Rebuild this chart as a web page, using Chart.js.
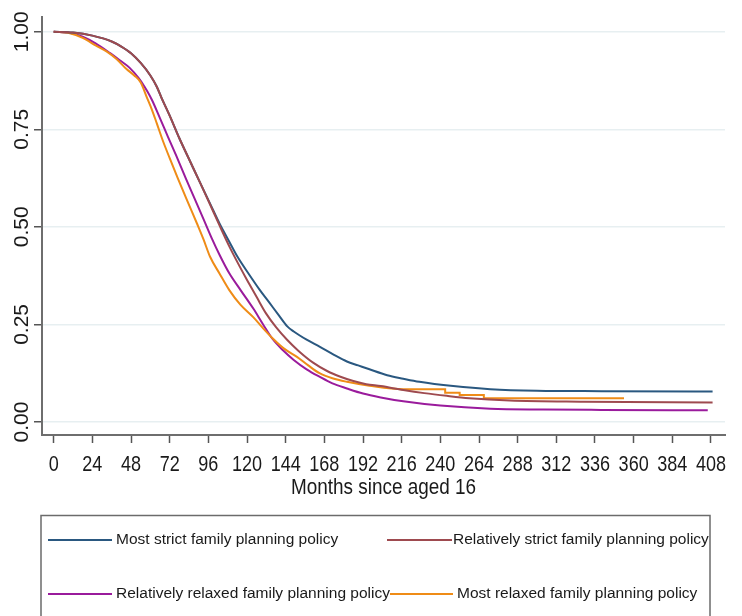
<!DOCTYPE html>
<html>
<head>
<meta charset="utf-8">
<script src="https://cdn.jsdelivr.net/npm/chart.js@4.4.1/dist/chart.umd.min.js"></script>
<style>
  html, body { margin: 0; padding: 0; background: #fff; }
</style>
</head>
<body>
<canvas id="myChart" width="742" height="616"></canvas>
<script>
'use strict';

// survival curves (months since aged 16 -> share still at risk)
let strictMonths = [0, 12, 24, 36, 42, 48, 54, 60, 64, 67, 72, 78, 85, 91, 97, 103, 109, 114, 121, 128, 134, 140, 145, 149, 157, 165, 174, 182, 189, 196, 207, 217, 227, 248, 271, 300, 340, 409];
let strictSurv = [1, 0.998, 0.99, 0.975, 0.962, 0.945, 0.92, 0.888, 0.859, 0.83, 0.785, 0.727, 0.665, 0.612, 0.56, 0.508, 0.462, 0.424, 0.38, 0.338, 0.305, 0.272, 0.245, 0.232, 0.211, 0.193, 0.172, 0.155, 0.145, 0.135, 0.12, 0.111, 0.103, 0.092, 0.084, 0.08, 0.079, 0.078];

let relStrictMonths = [0, 12, 24, 36, 42, 48, 54, 60, 64, 67, 72, 78, 85, 91, 97, 103, 109, 115, 120, 126, 132, 138, 145, 152, 161, 170, 178, 186, 194, 203, 217, 230, 244, 258, 283, 329, 409];
let relStrictSurv = [1, 0.998, 0.99, 0.975, 0.962, 0.945, 0.92, 0.888, 0.859, 0.83, 0.785, 0.727, 0.665, 0.612, 0.558, 0.503, 0.45, 0.402, 0.364, 0.32, 0.277, 0.243, 0.21, 0.182, 0.152, 0.13, 0.116, 0.105, 0.097, 0.092, 0.082, 0.074, 0.067, 0.061, 0.055, 0.052, 0.05];

let relRelaxMonths = [0, 10, 18, 26, 35, 41, 47, 53, 58, 61, 66, 71, 76, 82, 87, 93, 98, 103, 109, 116, 124, 130, 136, 142, 149, 157, 165, 173, 182, 192, 203, 217, 240, 271, 304, 340, 406];
let relRelaxSurv = [1, 0.997, 0.987, 0.97, 0.945, 0.927, 0.908, 0.88, 0.848, 0.825, 0.778, 0.73, 0.683, 0.624, 0.577, 0.52, 0.472, 0.428, 0.381, 0.338, 0.29, 0.25, 0.212, 0.185, 0.159, 0.135, 0.116, 0.099, 0.086, 0.073, 0.063, 0.053, 0.042, 0.034, 0.032, 0.031, 0.03];

let relaxMonths = [0, 10, 18, 26, 33, 39, 45, 50, 54, 58, 61, 64, 68, 72, 77, 83, 89, 93, 97, 103, 109, 116, 124, 130, 136, 143, 151, 158, 165, 173, 182, 196, 217, 243, 243, 252, 252, 267, 267, 354];
let relaxSurv = [1, 0.996, 0.984, 0.965, 0.949, 0.93, 0.905, 0.888, 0.87, 0.83, 0.8, 0.765, 0.718, 0.676, 0.625, 0.566, 0.508, 0.468, 0.424, 0.38, 0.338, 0.3, 0.268, 0.24, 0.214, 0.188, 0.167, 0.145, 0.125, 0.112, 0.103, 0.093, 0.084, 0.084, 0.075, 0.075, 0.069, 0.069, 0.061, 0.061];

let seriesNames = [
  'Most strict family planning policy',
  'Relatively strict family planning policy',
  'Relatively relaxed family planning policy',
  'Most relaxed family planning policy',
];
let seriesColors = ['#2a5880', '#9e4a4f', '#9a1b9c', '#ef8c17'];
// red sits on top of blue where they overlap in the export
let drawOrder = [1, 0, 3, 2];

let xTicks = [0, 24, 48, 72, 96, 120, 144, 168, 192, 216, 240, 264, 288, 312, 336, 360, 384, 408];
let yTicks = [0, 0.25, 0.5, 0.75, 1];
let xTitle = 'Months since aged 16';

function toPoints( months, surv ) {
  let pts = [];
  for ( let i = 0; i < months.length; i++ ) {
    pts.push( { x: months[i], y: surv[i] } );
  }
  return pts;
}

let allMonths = [strictMonths, relStrictMonths, relRelaxMonths, relaxMonths];
let allSurv = [strictSurv, relStrictSurv, relRelaxSurv, relaxSurv];

let datasets = [];
for ( let i = 0; i < seriesNames.length; i++ ) {
  datasets.push( {
    label: seriesNames[i],
    data: toPoints( allMonths[i], allSurv[i] ),
    borderColor: seriesColors[i],
    backgroundColor: seriesColors[i],
    borderWidth: 2,
    pointRadius: 0,
    cubicInterpolationMode: 'monotone',
    order: drawOrder[i],
    fill: false
  } );
}

// legend box, x labels + axis title, drawn under the x axis like the stata export
const legendSpots = [
  { x0: 48, x1: 112, tx: 116, y: 540 },
  { x0: 387, x1: 452, tx: 453, y: 540 },
  { x0: 48, x1: 112, tx: 116, y: 594 },
  { x0: 390, x1: 453, tx: 457, y: 594 },
];

// stata uses a narrow face here, squeeze liberation sans a bit
function narrowText( c, txt, x, y, squeeze ) {
  c.save();
  c.translate( x, y );
  c.scale( squeeze, 1 );
  c.fillText( txt, 0, 0 );
  c.restore();
}

const boxLegend = {
  id: 'boxLegend',
  afterDraw( chart ) {
    const ctx = chart.ctx;
    const area = chart.chartArea;
    const xs = chart.scales.x;
    ctx.save();
    ctx.fillStyle = '#1a1a1a';
    ctx.font = '22px "Liberation Sans", Arial, sans-serif';
    ctx.textAlign = 'center';
    ctx.textBaseline = 'middle';
    for ( let i = 0; i < xTicks.length; i++ ) {
      narrowText( ctx, String( xTicks[i] ), xs.getPixelForValue( xTicks[i] ), 465, 0.82 );
    }
    narrowText( ctx, xTitle, ( area.left + area.right ) / 2, 488, 0.86 );

    ctx.strokeStyle = '#6b6b6b';
    ctx.lineWidth = 1.5;
    ctx.strokeRect( 41, 515.5, 669, 120 );

    ctx.font = '15.5px "Liberation Sans", Arial, sans-serif';
    ctx.textAlign = 'left';
    for ( let i = 0; i < seriesNames.length; i++ ) {
      let s = legendSpots[i];
      ctx.strokeStyle = seriesColors[i];
      ctx.lineWidth = 2;
      ctx.beginPath();
      ctx.moveTo( s.x0, s.y );
      ctx.lineTo( s.x1, s.y );
      ctx.stroke();
      ctx.fillStyle = '#1a1a1a';
      ctx.fillText( seriesNames[i], s.tx, s.y );
    }
    ctx.restore();
  }
};

let ctx = document.getElementById( 'myChart' ).getContext( '2d' );
// eslint-disable-next-line no-unused-vars
let myChart = new Chart( ctx, {
  type: 'line',
  data: { datasets: datasets },
  plugins: [boxLegend],
  options: {
    responsive: false,
    animation: false,
    devicePixelRatio: 1,
    layout: { padding: { top: 17, right: 17, left: 0, bottom: 0 } },
    plugins: {
      legend: { display: false },
      tooltip: { enabled: false }
    },
    scales: {
      x: {
        type: 'linear',
        min: -7.26,
        max: 416.7,
        afterBuildTicks: ( axis ) => { axis.ticks = xTicks.map( v => ( { value: v } ) ); },
        afterFit: ( axis ) => { axis.height = 181; },
        grid: { drawOnChartArea: false, tickLength: 8, tickColor: '#555', tickWidth: 1.5 },
        border: { color: '#6e6e6e', width: 2 },
        ticks: { display: false, autoSkip: false, maxRotation: 0 }
      },
      y: {
        min: -0.0333,
        max: 1.0377,
        afterBuildTicks: ( axis ) => { axis.ticks = yTicks.map( v => ( { value: v } ) ); },
        afterFit: ( axis ) => { axis.width = 42; },
        grid: { color: '#e7eff1', lineWidth: 1.5, tickLength: 8, tickColor: '#555', tickWidth: 1.5 },
        border: { color: '#6e6e6e', width: 2 },
        ticks: {
          autoSkip: false,
          minRotation: 90,
          maxRotation: 90,
          crossAlign: 'center',
          padding: -9,
          color: '#1a1a1a',
          font: { family: '"Liberation Sans", Arial, sans-serif', size: 21 },
          callback: ( v ) => Number( v ).toFixed( 2 )
        }
      }
    }
  }
} );
</script>
</body>
</html>
